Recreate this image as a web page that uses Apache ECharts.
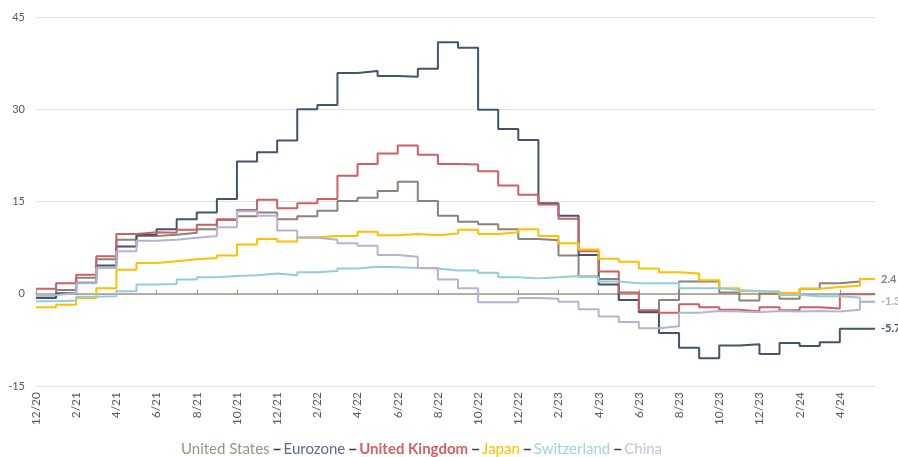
<!DOCTYPE html>
<html>
<head>
<meta charset="utf-8">
<script src="https://cdn.jsdelivr.net/npm/echarts@6/dist/echarts.min.js"></script>
<style>
    html, body { margin: 0; padding: 0; background: #fff; }
    #chart { width: 898px; height: 457px; }
</style>
</head>
<body>
<div id="chart"></div>
<script>
// 横轴刻度（每两个月一个，0 = 2020年12月）
const tickLabels = ['12/20', '2/21', '4/21', '6/21', '8/21', '10/21', '12/21', '2/22', '4/22', '6/22', '8/22',
    '10/22', '12/22', '2/23', '4/23', '6/23', '8/23', '10/23', '12/23', '2/24', '4/24']
// 最后一个月只到月中
const lastMonthEnd = 41.75

// 各经济体月度数值（2020/12 起）
const unitedStates = [-0.6, 0.6, 2.6, 5.6, 8.8, 9.4, 9.6, 9.9, 10.5, 12.0, 12.6, 13.2, 12.1, 12.6, 13.5, 15.1, 15.6, 16.7, 18.2, 15.1,
    12.7, 11.7, 11.3, 10.5, 8.9, 8.7, 6.2, 2.8, 2.4, -1.0, -2.8, -1.0, 2.0, 2.0, 0.2, -1.1, 0.0, -0.8, 0.8, 1.7, 2.0, 2.4]
const eurozone = [-0.7, 0.1, 1.8, 4.6, 7.7, 9.6, 10.5, 12.1, 13.2, 15.4, 21.5, 23.0, 24.9, 30.0, 30.7, 35.9, 36.2, 35.4, 35.3, 36.6,
    40.9, 40.0, 29.9, 26.8, 25.0, 14.7, 12.7, 6.3, 1.5, -1.0, -3.0, -6.4, -8.8, -10.5, -8.4, -8.2, -9.8, -8.0, -8.5, -7.9, -5.7, -5.7]
const unitedKingdom = [0.8, 1.7, 3.1, 6.1, 9.7, 10.0, 9.9, 10.4, 11.2, 12.1, 13.6, 15.3, 13.9, 14.7, 15.4, 19.2, 21.1, 22.8, 24.1, 22.6,
    21.1, 21.0, 19.9, 17.6, 16.1, 14.5, 12.2, 6.9, 3.6, 0.2, -2.7, -3.1, -1.7, -2.2, -2.6, -2.9, -2.2, -2.7, -2.2, -2.4, -0.1, -0.1]
const japan = [-2.2, -1.8, -0.7, 0.9, 3.9, 5.0, 5.3, 5.6, 5.8, 6.2, 8.0, 8.9, 8.5, 9.2, 9.4, 9.4, 10.1, 9.5, 9.7, 9.5,
    9.8, 10.4, 9.7, 10.0, 10.5, 9.4, 8.2, 7.2, 5.7, 5.2, 4.1, 3.5, 3.3, 2.2, 0.9, 0.4, 0.2, 0.1, 0.8, 1.1, 1.3, 2.4]
const switzerland = [-1.2, -1.1, -0.5, -0.4, 0.4, 1.5, 1.6, 2.3, 2.7, 2.9, 3.0, 3.3, 3.0, 3.5, 3.7, 4.1, 4.4, 4.3, 4.2, 4.1,
    3.8, 3.8, 3.4, 2.7, 2.5, 2.7, 2.9, 2.7, 2.0, 1.7, 1.7, 1.7, 0.9, 0.9, 0.6, 0.4, 0.4, -0.2, -0.4, -0.4, -0.6, -1.3]
const china = [-0.2, 0.1, 1.7, 4.2, 6.9, 8.6, 8.8, 9.1, 9.4, 10.8, 13.4, 12.7, 10.3, 9.1, 8.8, 8.2, 7.8, 6.3, 6.0, 4.2,
    2.3, 0.9, -1.4, -1.4, -0.7, -0.8, -1.3, -2.5, -3.7, -4.6, -5.6, -5.3, -3.1, -2.8, -2.9, -3.0, -2.8, -2.9, -2.8, -2.9, -2.6, -1.3]

const seriesNames = ['United States', 'Eurozone', 'United Kingdom', 'Japan', 'Switzerland', 'China']
const seriesValues = [unitedStates, eurozone, unitedKingdom, japan, switzerland, china]
const seriesColors = ['#8c8279', '#44546a', '#cc6062', '#ffc000', '#92cddc', '#b4b4d2']
const legendColors = ['#9a918a', '#5d6b8a', '#d06264', '#ffc000', '#9fd3e0', '#c3c3da']
// 右侧末端标签
const endLabelColors = { 'United States': '#7f7f7f', 'Eurozone': '#44546a', 'China': '#a9a9c8' }

const FONT = 'Lato, "Open Sans", sans-serif'
const tickValues = tickLabels.map((_, i) => i * 2)

// 月度阶梯数据：每个月一个点，最后补一个结束点
function toSteps(values) {
    const data = values.map((v, i) => [i, v])
    data.push([lastMonthEnd, values[values.length - 1]])
    return data
}

const chart = echarts.init(document.getElementById('chart'))

const series = seriesNames.map((name, i) => {
    const s = {
        name: name,
        type: 'line',
        step: 'end',
        data: toSteps(seriesValues[i]),
        symbol: 'none',
        lineStyle: { color: seriesColors[i], width: 2 },
        itemStyle: { color: seriesColors[i] },
        z: 3 + i,
    }
    if (endLabelColors[name]) {
        s.endLabel = {
            show: true,
            distance: 6,
            formatter: (p) => p.value[1].toFixed(1),
            color: endLabelColors[name],
            fontFamily: FONT,
            fontSize: 11,
            fontWeight: 'bold',
        }
    }
    return s
})

const option = {
    animation: false,
    backgroundColor: '#fff',
    grid: { left: 36, right: 23, top: 17, bottom: 71 },
    legend: {
        top: 437,
        left: 166,
        icon: 'rect',
        itemWidth: 7,
        itemHeight: 1.5,
        itemGap: 4,
        itemStyle: { color: '#404040' },
        textStyle: { fontFamily: FONT, fontSize: 15, padding: [0, 0, 0, -2] },
        data: seriesNames.map((name, i) => ({
            name: name,
            textStyle: { color: legendColors[i], fontWeight: name === 'United Kingdom' ? 'bold' : 'normal' },
            itemStyle: i === 0 ? { opacity: 0 } : undefined,
        })),
    },
    xAxis: [
        {
            // 零线（带刻度）
            type: 'value',
            min: 0,
            max: lastMonthEnd,
            interval: 2,
            position: 'top',
            axisLine: { show: true, onZero: true, lineStyle: { color: '#a0968c', width: 1.5 } },
            axisTick: { show: true, length: 4, customValues: tickValues, lineStyle: { color: '#a0968c' } },
            axisLabel: { show: false },
            splitLine: { show: false },
        },
        {
            // 底部月份标签
            type: 'value',
            min: 0,
            max: lastMonthEnd,
            interval: 2,
            position: 'bottom',
            axisLine: { show: false, onZero: false },
            axisTick: { show: false },
            splitLine: { show: false },
            axisLabel: {
                show: true,
                rotate: 90,
                margin: 6,
                customValues: tickValues,
                formatter: (v) => tickLabels[v / 2] || '',
                color: '#595959',
                fontFamily: FONT,
                fontSize: 12,
            },
        },
    ],
    yAxis: {
        type: 'value',
        min: -15,
        max: 45,
        interval: 15,
        axisLine: { show: false },
        axisTick: { show: false },
        axisLabel: { color: '#595959', fontFamily: FONT, fontSize: 11, margin: 11 },
        splitLine: { lineStyle: { color: '#e3e3e3', width: 1 } },
    },
    series: series,
}

chart.setOption(option)
</script>
</body>
</html>
